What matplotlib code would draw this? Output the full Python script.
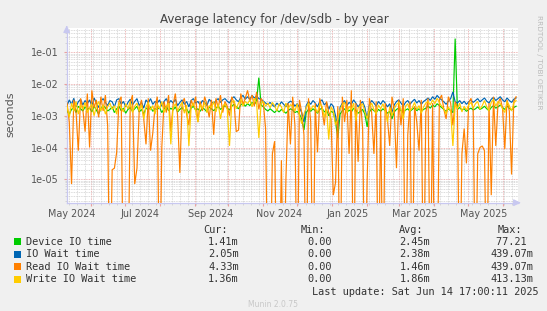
import numpy as np
import pandas as pd
import matplotlib
matplotlib.use('Agg')
import matplotlib.pyplot as plt
import matplotlib.dates as mdates
from matplotlib.ticker import LogLocator, FuncFormatter, NullFormatter
from matplotlib.transforms import blended_transform_factory
from matplotlib.patches import Rectangle

# ---------------- data (log10 of seconds, one value every 2 days) ----------------
START = '2024-05-11'
STEP = '2D'
XMIN = '2024-05-10 17:00'
XMAX = '2025-06-14 17:00'

DEVICE_LOG = [
    -2.85, -2.95, -2.80, -2.75, -2.90, -2.70, -2.78, -2.85, -2.72, -2.80,
    -2.75, -2.88, -2.70, -2.82, -2.95, -2.78, -2.68, -2.75, -2.85, -2.80,
    -2.72, -2.90, -2.78, -2.70, -2.84, -2.76, -2.92, -2.80, -2.74, -2.86,
    -2.78, -2.70, -2.88, -2.80, -2.95, -2.75, -2.82, -2.72, -2.86, -2.78,
    -2.80, -2.74, -2.90, -2.78, -2.70, -2.84, -2.76, -2.82, -2.72, -2.88,
    -2.80, -2.74, -2.85, -2.78, -2.92, -2.76, -2.70, -2.82, -2.78, -2.86,
    -2.75, -2.80, -2.88, -2.72, -2.78, -2.84, -2.76, -2.70, -2.80, -2.74,
    -2.68, -2.76, -2.82, -2.70, -2.64, -2.72, -2.78, -2.66, -2.60, -2.70,
    -2.62, -2.68, -2.58, -2.64, -2.55, -1.80, -2.66, -2.72, -2.80, -2.85,
    -2.78, -2.84, -2.90, -2.82, -2.88, -2.80, -2.86, -2.92, -2.84, -2.78,
    -2.82, -2.90, -2.86, -2.95, -3.10, -3.45, -2.90, -2.80, -2.86, -2.78,
    -2.84, -2.92, -2.80, -2.76, -2.88, -2.82, -3.00, -2.86, -2.90, -3.20,
    -3.70, -2.95, -2.84, -2.78, -2.90, -2.82, -2.88, -2.76, -2.84, -2.92,
    -2.86, -2.80, -2.95, -3.35, -2.88, -2.78, -2.84, -2.90, -2.80, -2.86,
    -2.78, -2.84, -2.92, -2.86, -3.10, -2.88, -2.80, -2.76, -2.84, -2.90,
    -2.82, -2.78, -2.86, -2.80, -2.74, -2.84, -2.78, -2.86, -2.80, -2.76,
    -2.70, -2.76, -2.66, -2.72, -2.62, -2.68, -2.74, -2.80, -2.86, -2.78,
    -2.84, -2.90, -0.57, -2.80, -2.74, -2.82, -2.78, -2.86, -2.80, -2.76,
    -2.82, -2.78, -2.72, -2.80, -2.76, -2.70, -2.78, -2.84, -2.74, -2.68,
    -2.76, -2.72, -2.66, -2.74, -2.80, -2.70, -2.76, -2.82, -2.74, -2.70,
]

IOWAIT_LOG = [
    -2.68, -2.50, -2.64, -2.45, -2.72, -2.56, -2.48, -2.66, -2.52, -2.62,
    -2.50, -2.70, -2.44, -2.60, -2.74, -2.54, -2.46, -2.58, -2.68, -2.52,
    -2.56, -2.72, -2.50, -2.46, -2.64, -2.55, -2.72, -2.58, -2.48, -2.66,
    -2.55, -2.46, -2.68, -2.57, -2.76, -2.50, -2.60, -2.46, -2.64, -2.55,
    -2.60, -2.50, -2.70, -2.55, -2.46, -2.62, -2.52, -2.60, -2.48, -2.68,
    -2.58, -2.50, -2.64, -2.55, -2.72, -2.52, -2.46, -2.60, -2.55, -2.66,
    -2.52, -2.58, -2.68, -2.48, -2.56, -2.62, -2.52, -2.46, -2.58, -2.50,
    -2.46, -2.54, -2.60, -2.46, -2.40, -2.50, -2.56, -2.42, -2.36, -2.48,
    -2.40, -2.48, -2.36, -2.44, -2.38, -2.46, -2.48, -2.54, -2.60, -2.64,
    -2.58, -2.66, -2.72, -2.60, -2.68, -2.56, -2.64, -2.72, -2.60, -2.54,
    -2.58, -2.70, -2.62, -2.74, -2.90, -3.20, -2.68, -2.55, -2.64, -2.52,
    -2.60, -2.72, -2.55, -2.50, -2.66, -2.58, -2.80, -2.62, -2.70, -3.00,
    -3.40, -2.74, -2.60, -2.52, -2.68, -2.58, -2.64, -2.50, -2.60, -2.72,
    -2.62, -2.55, -2.74, -3.10, -2.64, -2.52, -2.60, -2.70, -2.55, -2.64,
    -2.52, -2.60, -2.72, -2.62, -2.90, -2.66, -2.55, -2.50, -2.60, -2.70,
    -2.58, -2.52, -2.64, -2.55, -2.48, -2.60, -2.52, -2.64, -2.55, -2.50,
    -2.44, -2.52, -2.40, -2.48, -2.36, -2.44, -2.50, -2.56, -2.64, -2.54,
    -2.46, -2.25, -2.56, -2.60, -2.52, -2.62, -2.54, -2.64, -2.56, -2.50,
    -2.58, -2.52, -2.46, -2.56, -2.50, -2.44, -2.54, -2.60, -2.48, -2.42,
    -2.52, -2.46, -2.40, -2.50, -2.56, -2.44, -2.52, -2.58, -2.48, -2.44,
]

READ_LOG = [
    -2.60, -3.20, -5.15, -2.50, -2.90, -4.10, -2.45, -2.80, -3.50, -2.30,
    -4.00, -2.20, -2.75, -2.50, -3.05, -2.40, -2.85, -2.35, -3.30, -9.00,
    -4.70, -4.65, -4.15, -2.55, -2.40, -9.00, -9.00, -9.00, -2.60, -2.35,
    -5.15, -4.65, -2.80, -2.50, -3.10, -3.90, -2.45, -4.10, -3.55, -2.70,
    -2.40, -9.00, -4.00, -2.55, -2.90, -2.35, -3.50, -2.65, -2.30, -3.00,
    -4.80, -2.60, -2.45, -2.95, -3.30, -2.50, -2.70, -2.40, -3.20, -2.55,
    -2.85, -2.40, -2.65, -3.05, -2.50, -3.60, -2.45, -2.75, -2.35, -2.90,
    -2.55, -2.70, -3.00, -2.40, -2.60, -3.50, -3.45, -2.30, -2.65, -2.45,
    -2.20, -2.55, -2.35, -2.70, -2.25, -2.80, -2.45, -2.60, -3.40, -9.00,
    -9.00, -4.20, -3.80, -9.00, -9.00, -4.40, -9.00, -5.00, -2.60, -3.90,
    -2.40, -3.30, -9.00, -2.50, -2.90, -3.60, -9.00, -2.45, -3.20, -9.00,
    -2.60, -4.15, -2.45, -2.80, -3.30, -2.55, -2.90, -3.10, -5.50, -5.10,
    -2.70, -9.00, -2.40, -3.20, -2.50, -4.20, -2.20, -9.00, -2.60, -4.45,
    -2.50, -3.40, -9.00, -5.00, -2.45, -2.90, -4.20, -2.55, -9.00, -2.80,
    -9.00, -2.60, -3.10, -3.95, -2.40, -2.80, -4.65, -2.50, -3.30, -2.45,
    -9.00, -3.60, -2.55, -9.00, -2.70, -3.20, -4.10, -2.50, -9.00, -2.90,
    -2.45, -9.00, -2.60, -9.00, -9.00, -2.50, -2.35, -2.80, -3.10, -2.40,
    -2.60, -3.30, -2.55, -2.75, -9.00, -4.20, -3.40, -4.50, -2.60, -2.45,
    -2.80, -9.00, -4.20, -4.00, -3.95, -4.10, -9.00, -2.60, -5.50, -2.40,
    -3.95, -2.60, -2.45, -2.75, -4.05, -2.50, -2.85, -4.85, -2.55, -2.40,
]

WRITE_LOG = [
    -2.70, -3.05, -2.60, -2.85, -2.55, -2.95, -2.65, -2.80, -2.58, -2.90,
    -2.75, -2.62, -3.00, -2.70, -2.55, -2.85, -2.65, -2.95, -2.72, -2.60,
    -2.80, -2.68, -2.95, -2.58, -2.75, -2.88, -2.62, -2.78, -2.55, -2.90,
    -2.70, -2.60, -2.85, -2.65, -3.10, -2.72, -2.58, -2.82, -2.68, -2.95,
    -2.62, -2.78, -2.55, -2.90, -2.70, -2.60, -3.90, -2.75, -2.62, -2.85,
    -2.70, -2.58, -2.92, -2.66, -3.95, -2.72, -2.60, -2.84, -3.20, -2.65,
    -2.78, -2.58, -2.90, -2.68, -2.75, -2.55, -2.88, -2.62, -3.10, -2.70,
    -2.62, -2.80, -3.95, -2.58, -2.52, -2.78, -2.60, -2.48, -2.70, -2.55,
    -2.62, -2.50, -2.72, -2.45, -2.58, -3.70, -2.62, -2.55, -2.70, -2.60,
    -2.75, -2.58, -2.68, -2.85, -2.62, -2.72, -2.90, -2.60, -2.78, -2.65,
    -2.70, -2.85, -2.62, -3.00, -3.25, -2.95, -2.75, -2.60, -2.82, -2.68,
    -2.75, -2.90, -2.62, -2.70, -3.05, -2.78, -3.75, -2.72, -2.85, -3.30,
    -3.10, -2.80, -2.65, -2.58, -2.92, -2.70, -2.82, -2.60, -3.15, -2.75,
    -2.70, -2.62, -2.88, -3.10, -2.75, -2.60, -2.80, -2.95, -2.66, -2.78,
    -2.62, -2.85, -3.20, -2.72, -3.00, -2.78, -2.65, -2.58, -2.82, -3.10,
    -2.70, -2.62, -2.85, -2.75, -2.58, -2.80, -2.68, -2.92, -2.72, -2.60,
    -2.55, -2.66, -2.50, -2.62, -2.45, -2.58, -2.70, -2.78, -2.95, -2.72,
    -2.85, -3.95, -2.65, -2.78, -2.60, -2.88, -2.70, -2.82, -2.66, -2.58,
    -2.75, -2.62, -2.55, -2.80, -2.68, -2.52, -2.72, -2.85, -2.58, -2.48,
    -2.70, -2.55, -2.62, -2.78, -2.90, -2.55, -2.68, -2.85, -2.60, -2.52,
]

SERIES_NAMES = ['Device IO time', 'IO Wait time', 'Read IO Wait time', 'Write IO Wait time']
SERIES_COLORS = ['#00CC00', '#0066B3', '#FF8000', '#FFCC00']
CUR = ['1.41m', '2.05m', '4.33m', '1.36m']
MIN = ['0.00', '0.00', '0.00', '0.00']
AVG = ['2.45m', '2.38m', '1.46m', '1.86m']
MAX = ['77.21 ', '439.07m', '439.07m', '413.13m']
MONTH_LABELS = ['May 2024', 'Jul 2024', 'Sep 2024', 'Nov 2024', 'Jan 2025', 'Mar 2025', 'May 2025']
MONTH_LABEL_DATES = ['2024-05-15', '2024-07-15', '2024-09-15', '2024-11-15',
                     '2025-01-15', '2025-03-15', '2025-05-15']
TITLE = 'Average latency for /dev/sdb - by year'
YLABEL = 'seconds'
LAST_UPDATE = 'Last update: Sat Jun 14 17:00:11 2025'

# ---------------- figure ----------------
W, H = 547, 311
fig = plt.figure(figsize=(W / 100, H / 100), dpi=100, facecolor='#F0F0F0')

def fx(x):
    return x / W

def fy(y):
    return 1 - y / H

L, R, T, B = 66.7, 518.0, 28.0, 202.7
ax = fig.add_axes([fx(L), fy(B), (R - L) / W, (B - T) / H])
ax.set_facecolor('white')

dates = pd.date_range(START, periods=len(DEVICE_LOG), freq=STEP)
all_logs = [DEVICE_LOG, IOWAIT_LOG, READ_LOG, WRITE_LOG]
for logs, color in zip(all_logs, SERIES_COLORS):
    ax.plot(dates, 10 ** np.array(logs), color=color, lw=0.85, zorder=3,
            solid_joinstyle='miter')

ax.set_yscale('log')
ax.set_ylim(1.83e-6, 0.58)
ax.set_xlim(pd.Timestamp(XMIN), pd.Timestamp(XMAX))

ax.yaxis.set_major_locator(LogLocator(base=10, numticks=12))
ax.yaxis.set_minor_locator(LogLocator(base=10, subs=np.arange(2, 10), numticks=12))
ax.yaxis.set_major_formatter(FuncFormatter(lambda v, _: f'{v:.0e}'))
ax.yaxis.set_minor_formatter(NullFormatter())

ax.xaxis.set_major_locator(mdates.MonthLocator())
ax.xaxis.set_minor_locator(mdates.WeekdayLocator(byweekday=mdates.MO))
ax.xaxis.set_major_formatter(NullFormatter())
ax.xaxis.set_minor_formatter(NullFormatter())

dot = (0, (1, 1))
ax.grid(which='minor', color='#CFCFCF', lw=0.6, linestyle=dot, zorder=1)
ax.grid(which='major', color='#E9A0A0', lw=0.6, linestyle=dot, zorder=2)

ax.tick_params(axis='y', which='major', labelsize=6.9, labelcolor='#555555',
               length=2, color='#E9A0A0', pad=3.5)
ax.tick_params(axis='y', which='minor', length=1.5, color='#CFCFCF')
ax.tick_params(axis='x', which='major', length=2, color='#E9A0A0')
ax.tick_params(axis='x', which='minor', length=1.5, color='#CFCFCF')

for s in ['top', 'right']:
    ax.spines[s].set_visible(False)
for s in ['left', 'bottom']:
    ax.spines[s].set_color('#C8C8F0')
    ax.spines[s].set_linewidth(0.9)

# axis arrows
ax.annotate('', xy=(1.012, 0), xytext=(0.995, 0), xycoords='axes fraction',
            arrowprops=dict(arrowstyle='-|>,head_length=0.4,head_width=0.2',
                            color='#C8C8F0', lw=0.9), annotation_clip=False)
ax.annotate('', xy=(0, 1.03), xytext=(0, 0.99), xycoords='axes fraction',
            arrowprops=dict(arrowstyle='-|>,head_length=0.4,head_width=0.2',
                            color='#C8C8F0', lw=0.9), annotation_clip=False)

# month labels centred mid-month
trans = blended_transform_factory(ax.transData, ax.transAxes)
for lab, d in zip(MONTH_LABELS, MONTH_LABEL_DATES):
    ax.text(mdates.date2num(pd.Timestamp(d)), -11.5 / (B - T), lab, transform=trans,
            ha='center', va='center', fontsize=6.9, color='#555555')

# title & labels
fig.text(fx(274), fy(19.5), TITLE, ha='center', va='center', fontsize=8.6, color='#444444')
fig.text(fx(10.5), fy(114.5), YLABEL, ha='center', va='center', rotation=90,
         fontsize=8, color='#555555')
fig.text(fx(539), fy(15), 'RRDTOOL / TOBI OETIKER', ha='center', va='top', rotation=270,
         fontsize=5.3, color='#BBBBBB')

# legend
mono = dict(family='DejaVu Sans Mono', fontsize=7.4, color='#333333', va='center')
hy = 229.7
fig.text(fx(203.0), fy(hy), 'Cur:', ha='left', **mono)
fig.text(fx(300.8), fy(hy), 'Min:', ha='left', **mono)
fig.text(fx(398.8), fy(hy), 'Avg:', ha='left', **mono)
fig.text(fx(497.2), fy(hy), 'Max:', ha='left', **mono)
row_y = [241.9, 254.4, 266.8, 279.4]
for name, color, c, mn, av, mx, y in zip(SERIES_NAMES, SERIES_COLORS, CUR, MIN, AVG, MAX, row_y):
    fig.patches.append(Rectangle((fx(14.0), fy(y + 3.5)), 6.5 / W, 7 / H, transform=fig.transFigure,
                                 facecolor=color, edgecolor='none'))
    fig.text(fx(26.2), fy(y), name, ha='left', **mono)
    fig.text(fx(208.3), fy(y), c, ha='left', **mono)
    fig.text(fx(307.0), fy(y), mn, ha='left', **mono)
    fig.text(fx(399.5), fy(y), av, ha='left', **mono)
    fig.text(fx(533.0 - 6.15 * len(mx)), fy(y), mx, ha='left', **mono)
fig.text(fx(311.6), fy(291.8), LAST_UPDATE, ha='left', **mono)
fig.text(fx(272.8), fy(304.5), 'Munin 2.0.75', ha='center', va='center', fontsize=5.5,
         color='#C8C8C8')

fig.savefig('out.png', dpi=100, facecolor=fig.get_facecolor())
